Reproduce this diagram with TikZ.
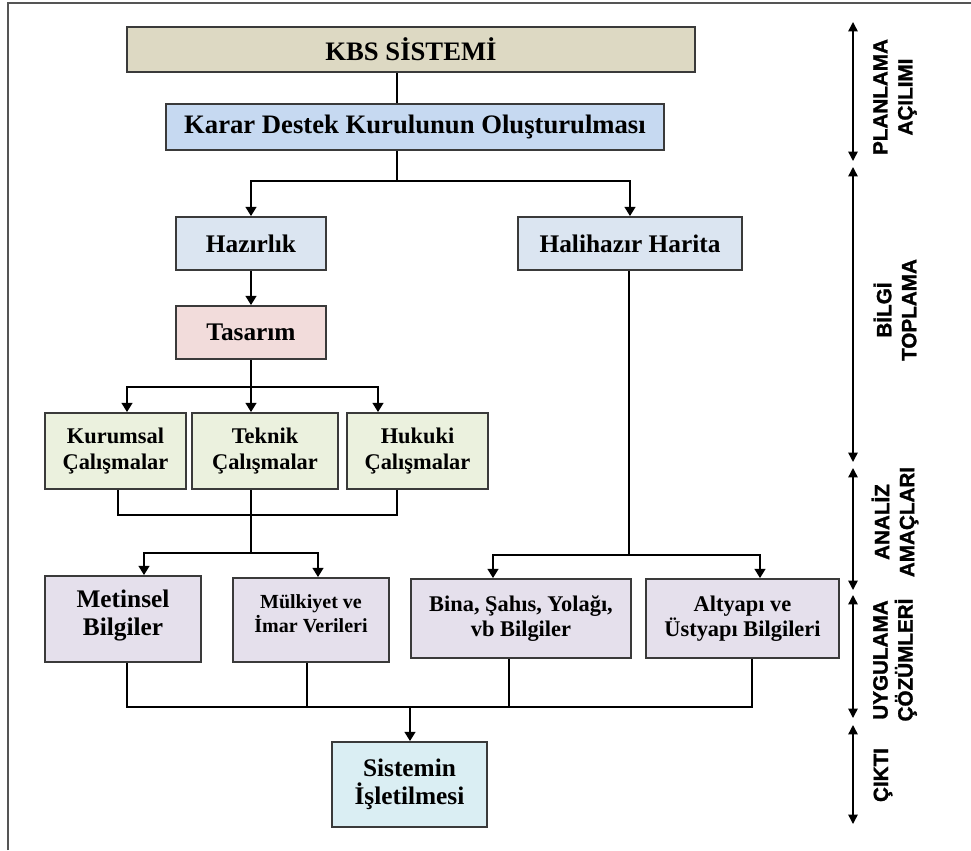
\documentclass[tikz,border=0pt]{standalone}
\usepackage{fontspec}
\setmainfont{Liberation Serif}
\newfontfamily\axisfont[BoldFeatures={FakeBold=1.4}]{Liberation Sans}
\usetikzlibrary{arrows.meta}

\definecolor{boxline}{HTML}{3A3A3A}
\definecolor{frameline}{HTML}{555555}
\definecolor{tanfill}{HTML}{DDD9C3}
\definecolor{bluefill}{HTML}{C6D9F1}
\definecolor{paleblue}{HTML}{DBE5F1}
\definecolor{pinkfill}{HTML}{F2DCDB}
\definecolor{greenfill}{HTML}{EBF1DE}
\definecolor{lilacfill}{HTML}{E5E0EC}
\definecolor{cyanfill}{HTML}{DAEEF3}

\begin{document}
\begin{tikzpicture}[x=0.75pt,y=-0.75pt,
  box/.style={draw=boxline, line width=1.3pt, inner sep=0pt, align=center},
  big/.style={font=\bfseries\fontsize{20}{23}\selectfont},
  mid/.style={font=\bfseries\fontsize{19}{21}\selectfont},
  small/.style={font=\bfseries\fontsize{16.8}{19}\selectfont},
  tiny/.style={font=\bfseries\fontsize{15}{18}\selectfont},
  inner text/.style={inner sep=0pt, align=center},
  wire/.style={line width=2pt},
  feed/.style={line width=2pt, -{Triangle[length=7pt,width=8pt]}},
  phasebar/.style={line width=1.1pt, {Triangle[length=7pt,width=7pt]}-{Triangle[length=7pt,width=7pt]}},
  phase/.style={font=\axisfont\bfseries\fontsize{15.5}{18.75}\selectfont, rotate=90, align=center, inner sep=0pt}
]
\useasboundingbox (0,0) rectangle (971,850);

% outer frame (top and left edges)
\coordinate (fbl) at (8,850);
\coordinate (ftl) at (8,3);
\coordinate (ftr) at (971,3);
\draw[frameline, line width=1.1pt] (fbl) -- (ftl) -- (ftr);

% boxes
\node[box, big, fill=tanfill, minimum width=426pt, minimum height=33.75pt] (kbs) at (411,49.5) {KBS SİSTEMİ};
\node[box, big, fill=bluefill, minimum width=373.5pt, minimum height=34.5pt] (karar) at (415,127) {Karar Destek Kurulunun Oluşturulması};
\node[box, mid, fill=paleblue, minimum width=112.5pt, minimum height=39.75pt] (hazirlik) at (251,243.5) {Hazırlık};
\node[box, mid, fill=paleblue, minimum width=168pt, minimum height=39.75pt] (halihazir) at (630,243.5) {Halihazır Harita};
\node[box, mid, fill=pinkfill, minimum width=112.5pt, minimum height=39.75pt] (tasarim) at (251,332.5) {Tasarım};
\node[box, small, fill=greenfill, minimum width=105.75pt, minimum height=57pt] (kurumsal) at (115.5,451) {Kurumsal\\Çalışmalar};
\node[box, small, fill=greenfill, minimum width=109.5pt, minimum height=57pt] (teknik) at (265,451) {Teknik\\Çalışmalar};
\node[box, small, fill=greenfill, minimum width=105.75pt, minimum height=57pt] (hukuki) at (417.5,451) {Hukuki\\Çalışmalar};
\node[box, fill=lilacfill, minimum width=117pt, minimum height=64.5pt,
      label={[inner text, mid, yshift=2.5pt]center:Metinsel\\Bilgiler}] (metinsel) at (123,619) {};
\node[box, fill=lilacfill, minimum width=117pt, minimum height=63pt,
      label={[inner text, tiny, yshift=5pt]center:Mülkiyet ve\\İmar Verileri}] (mulkiyet) at (311,620) {};
\node[box, small, fill=lilacfill, minimum width=165pt, minimum height=59.25pt] (bina) at (521,618.5) {Bina, Şahıs, Yolağı,\\vb Bilgiler};
\node[box, small, fill=lilacfill, minimum width=144.75pt, minimum height=59.25pt] (altyapi) at (742.5,618.5) {Altyapı ve\\Üstyapı Bilgileri};
\node[box, mid, fill=cyanfill, minimum width=116.25pt, minimum height=63.75pt] (sistemin) at (409.5,784.5) {Sistemin\\İşletilmesi};

% junction points of the connector tree
\coordinate (j1) at (397,181);
\coordinate (j2) at (251,387);
\coordinate (k1) at (127,387);
\coordinate (k3) at (378,387);
\coordinate (m1) at (118,515);
\coordinate (m2) at (251,515);
\coordinate (m3) at (397,515);
\coordinate (n0) at (251,553);
\coordinate (n1) at (144,553);
\coordinate (n2) at (318,553);
\coordinate (h0) at (629,555);
\coordinate (h1) at (493,555);
\coordinate (h2) at (760,555);
\coordinate (b1) at (127,707);
\coordinate (b2) at (307,707);
\coordinate (b0) at (410,707);
\coordinate (b3) at (509,707);
\coordinate (b4) at (752,707);

% connectors
\draw[wire] (kbs.south -| j1) -- (karar.north -| j1);
\draw[wire] (karar.south -| j1) -- (j1);
\draw[feed] (j1) -| (hazirlik.north);
\draw[feed] (j1) -| (halihazir.north);
\draw[feed] (hazirlik) -- (tasarim);

\draw[wire] (tasarim.south) -- (j2);
\draw[feed] (j2) -- (k1) -- (k1 |- kurumsal.north);
\draw[feed] (j2) -- (j2 |- teknik.north);
\draw[feed] (j2) -- (k3) -- (k3 |- hukuki.north);

\draw[wire] (m1 |- kurumsal.south) -- (m1) -- (m3) -- (m3 |- hukuki.south);
\draw[wire] (m2 |- teknik.south) -- (n0);
\draw[feed] (n0) -- (n1) -- (n1 |- metinsel.north);
\draw[feed] (n0) -- (n2) -- (n2 |- mulkiyet.north);

\draw[wire] (halihazir.south -| h0) -- (h0);
\draw[feed] (h0) -- (h1) -- (h1 |- bina.north);
\draw[feed] (h0) -- (h2) -- (h2 |- altyapi.north);

\draw[wire] (b1 |- metinsel.south) -- (b1) -- (b4) -- (b4 |- altyapi.south);
\draw[wire] (b2 |- mulkiyet.south) -- (b2);
\draw[wire] (b3 |- bina.south) -- (b3);
\draw[feed] (b0) -- (b0 |- sistemin.north);

% phase scale on the right
\coordinate (p0) at (853,22);
\coordinate (p1) at (853,161);
\coordinate (p2) at (853,167);
\coordinate (p3) at (853,462);
\coordinate (p4) at (853,468);
\coordinate (p5) at (853,590);
\coordinate (p6) at (853,595);
\coordinate (p7) at (853,718);
\coordinate (p8) at (853,725);
\coordinate (p9) at (853,824);
\draw[phasebar] (p0) -- (p1);
\draw[phasebar] (p2) -- (p3);
\draw[phasebar] (p4) -- (p5);
\draw[phasebar] (p6) -- (p7);
\draw[phasebar] (p8) -- (p9);

\node[phase] (ph1) at (895,97) {PLANLAMA\\AÇILIMI};
\node[phase] (ph2) at (895,310) {BİLGİ\\TOPLAMA};
\node[phase] (ph3) at (895,522) {ANALİZ\\AMAÇLARI};
\node[phase] (ph4) at (895,660) {UYGULAMA\\ÇÖZÜMLERİ};
\node[phase] (ph5) at (883,775) {ÇIKTI};
\end{tikzpicture}
\end{document}
